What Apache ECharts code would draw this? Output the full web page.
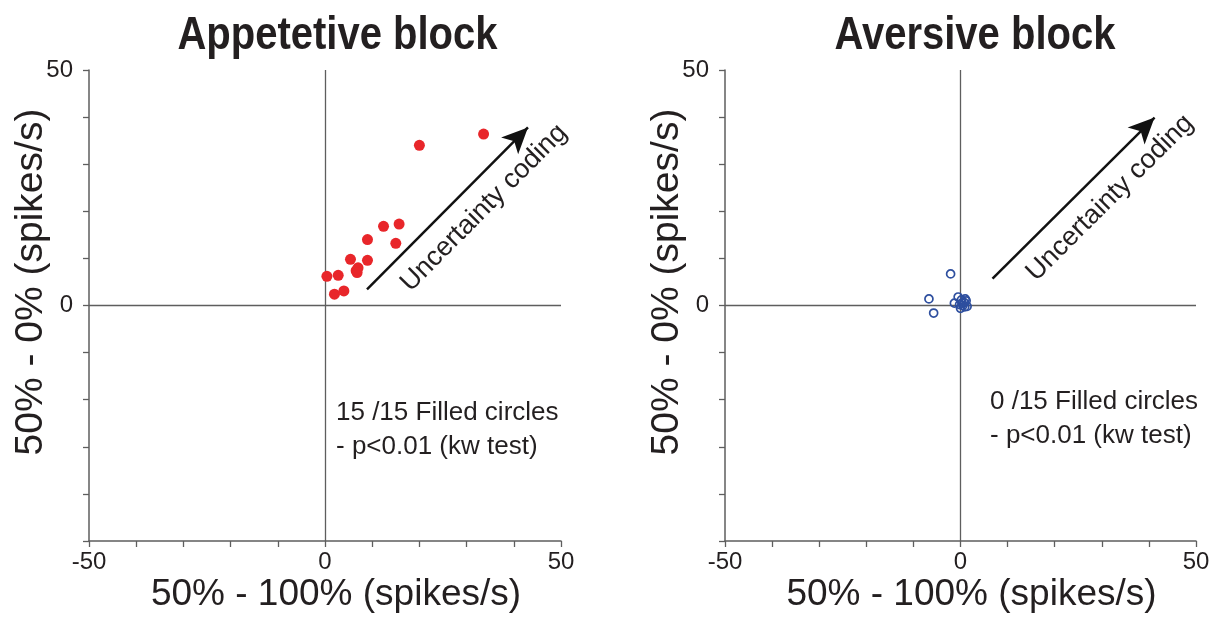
<!DOCTYPE html>
<html>
<head>
<meta charset="utf-8">
<script src="https://cdn.jsdelivr.net/npm/echarts@6/dist/echarts.min.js"></script>
<style>
html,body{margin:0;padding:0;background:#fff;}
#chart{width:1224px;height:628px;}
</style>
</head>
<body>
<div id="chart"></div>
<script>
// ---- data ----
const panelTitles = ['Appetetive block', 'Aversive block'];
const xAxisName = '50% - 100% (spikes/s)';
const yAxisName = '50% - 0% (spikes/s)';
const xTickLabels = [-50, 0, 50];
const yTickLabels = [0, 50];
const appetitiveX = [0.4, 2.8, 2.0, 4.0, 5.4, 6.6, 7.0, 6.8, 9.0, 9.0, 12.4, 15.7, 15.0, 20.0, 33.6];
const appetitiveY = [6.2, 6.4, 2.4, 3.1, 9.8, 7.4, 8.0, 7.0, 9.6, 14.0, 16.8, 17.3, 13.2, 34.0, 36.4];
const aversiveX = [-2.1, -6.7, -5.7, -1.3, -0.5, 0.2, 0.8, 1.2, 0.5, 1.4, 0.0, 0.9, 0.3, 1.0, -0.2];
const aversiveY = [6.7, 1.4, -1.6, 0.5, 1.8, 1.2, 0.6, 1.0, 0.0, -0.2, -0.6, -0.3, 0.5, 1.4, 0.2];
const notes = [['15 /15 Filled circles', '- p<0.01 (kw test)'], ['0 /15 Filled circles', '- p<0.01 (kw test)']];
const arrowLabel = 'Uncertainty coding';

const FONT = '"Liberation Sans", Arial, Helvetica, sans-serif';
const AXIS_COLOR = '#5e5e5e';
const TEXT_COLOR = '#231f20';

const chart = echarts.init(document.getElementById('chart'), null, {renderer: 'canvas'});

const grids = [
  {left: 89, top: 70, width: 472, height: 471},
  {left: 725, top: 70, width: 471, height: 471}
];

function makeX(i) {
  return {
    gridIndex: i, type: 'value', min: -50, max: 50, interval: 10,
    name: xAxisName, nameLocation: 'middle', nameGap: 35, nameMoveOverlap: false,
    nameTextStyle: {fontFamily: FONT, fontSize: 37, color: TEXT_COLOR, padding: [0, 0, 0, 22]},
    axisLine: {show: true, onZero: false, lineStyle: {color: AXIS_COLOR, width: 1.5}},
    axisTick: {show: true, inside: false, length: 6, lineStyle: {color: AXIS_COLOR, width: 1.3}},
    axisLabel: {fontFamily: FONT, fontSize: 24, color: TEXT_COLOR, margin: 9,
      formatter: v => xTickLabels.includes(v) ? String(v) : ''},
    splitLine: {show: false}
  };
}
function makeY(i) {
  return {
    gridIndex: i, type: 'value', min: -50, max: 50, interval: 10,
    name: yAxisName, nameLocation: 'middle', nameGap: 38, nameMoveOverlap: false,
    nameTextStyle: {fontFamily: FONT, fontSize: 39, color: TEXT_COLOR, padding: [0, 0, 0, 47]},
    axisLine: {show: true, onZero: false, lineStyle: {color: AXIS_COLOR, width: 1.5}},
    axisTick: {show: true, inside: false, length: 6, lineStyle: {color: AXIS_COLOR, width: 1.3}},
    axisLabel: {fontFamily: FONT, fontSize: 24, color: TEXT_COLOR, margin: 16,
      formatter: v => yTickLabels.includes(v) ? String(v) : ''},
    splitLine: {show: false}
  };
}

function crossLines() {
  return {
    silent: true, symbol: ['none', 'none'], animation: false,
    label: {show: false},
    lineStyle: {color: AXIS_COLOR, width: 1.3, type: 'solid'},
    data: [{xAxis: 0}, {yAxis: 0}]
  };
}

function arrowSeries(i, start, end) {
  return {
    type: 'scatter', xAxisIndex: i, yAxisIndex: i, data: [], silent: true,
    markLine: {
      silent: true, animation: false,
      symbol: ['none', 'arrow'], symbolSize: [18, 26],
      lineStyle: {color: '#111', width: 2.5, type: 'solid'},
      label: {show: true, position: 'insideMiddleBottom', formatter: arrowLabel,
        fontFamily: FONT, fontSize: 27, color: TEXT_COLOR, distance: 12, padding: [0, 0, 0, 52]},
      data: [[{coord: start}, {coord: end}]]
    }
  };
}

function titleText(cx, text) {
  return {type: 'text', x: cx, y: 36, scaleY: 1.15, z: 10,
    style: {text: text, font: 'bold 40px ' + FONT, fill: TEXT_COLOR,
      align: 'center', textAlign: 'center', verticalAlign: 'middle', textVerticalAlign: 'middle'}};
}
function noteText(lx, ty, lines) {
  return {type: 'text', x: lx, y: ty, z: 10,
    style: {text: lines.join('\n'), font: '26px ' + FONT, fill: TEXT_COLOR, lineHeight: 34,
      align: 'left', textAlign: 'left', verticalAlign: 'top', textVerticalAlign: 'top'}};
}

const option = {
  backgroundColor: '#ffffff',
  animation: false,
  grid: grids,
  xAxis: [makeX(0), makeX(1)],
  yAxis: [makeY(0), makeY(1)],
  series: [
    {
      type: 'scatter', xAxisIndex: 0, yAxisIndex: 0, z: 5,
      symbol: 'circle', symbolSize: 11,
      itemStyle: {color: '#e8262a', opacity: 1},
      data: appetitiveX.map((x, k) => [x, appetitiveY[k]]),
      markLine: crossLines()
    },
    {
      type: 'scatter', xAxisIndex: 1, yAxisIndex: 1, z: 5,
      symbol: 'circle', symbolSize: 8,
      itemStyle: {color: 'rgba(0,0,0,0)', borderColor: '#2e4f9f', borderWidth: 1.7, opacity: 1},
      data: aversiveX.map((x, k) => [x, aversiveY[k]]),
      markLine: crossLines()
    },
    arrowSeries(0, [8.9, 3.4], [43, 37.8]),
    arrowSeries(1, [6.8, 5.7], [41.2, 39.9])
  ],
  graphic: [
    titleText(337.5, panelTitles[0]),
    titleText(975, panelTitles[1]),
    noteText(336, 396, notes[0]),
    noteText(990, 385, notes[1])
  ]
};
chart.setOption(option);
</script>
</body>
</html>
